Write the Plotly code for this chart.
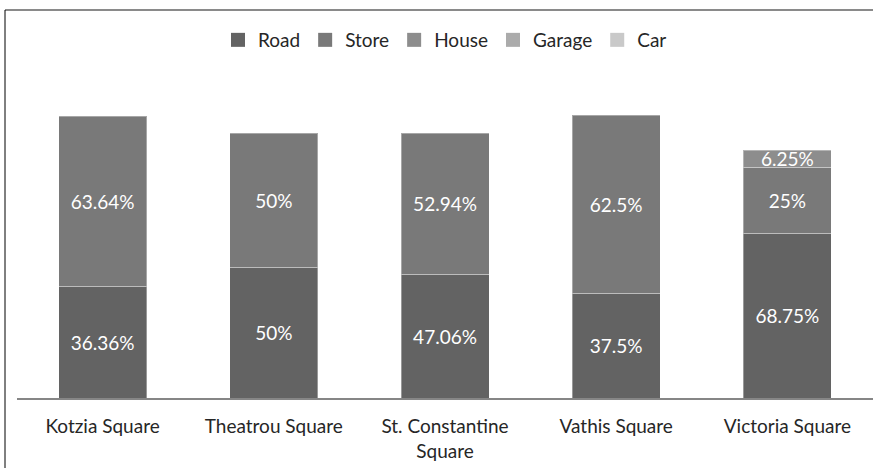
import plotly.graph_objects as go

categories = ["Kotzia Square", "Theatrou Square", "St. Constantine Square", "Vathis Square", "Victoria Square"]
tick_labels = ["Kotzia Square", "Theatrou Square", "St. Constantine<br>Square", "Vathis Square", "Victoria Square"]

series_names = ["Road", "Store", "House", "Garage", "Car"]
# bar segment heights (arbitrary units)
road = [11.2, 13.1, 12.4, 10.5, 16.5]
store = [17.0, 13.4, 14.1, 17.8, 6.6]
house = [None, None, None, None, 1.7]
garage = [None, None, None, None, None]
car = [None, None, None, None, None]

# percentage labels shown on the segments
road_lbl = ["36.36%", "50%", "47.06%", "37.5%", "68.75%"]
store_lbl = ["63.64%", "50%", "52.94%", "62.5%", "25%"]
house_lbl = ["", "", "", "", "6.25%"]
garage_lbl = ["", "", "", "", ""]
car_lbl = ["", "", "", "", ""]

colors = ["#636363", "#797979", "#8d8d8d", "#ababab", "#c9c9c9"]

FONT = "Lato"
W, H = 873, 468
ML, MR, MT, MB = 17, 0, 60, 70

fig = go.Figure()
for name, vals, lbls, col in zip(series_names,
                                 [road, store, house, garage, car],
                                 [road_lbl, store_lbl, house_lbl, garage_lbl, car_lbl],
                                 colors):
    fig.add_trace(go.Bar(
        name=name, x=categories, y=vals, text=lbls,
        textposition="inside", insidetextanchor="middle",
        textfont=dict(family=FONT, size=19, color="white"),
        marker=dict(color=col, line=dict(color="rgba(255,255,255,0.35)", width=1)),
        hoverinfo="skip", showlegend=False, legendgroup=name,
    ))
# legend entries (square swatches like the reference)
for name, col in zip(series_names, colors):
    fig.add_trace(go.Scatter(
        name=name, x=[None], y=[None], mode="markers", legendgroup=name,
        marker=dict(symbol="square", size=14, color=col), hoverinfo="skip",
    ))

# frame lines (converted from pixel to paper coords)
pw = W - ML - MR
ph = H - MT - MB
def px_x(x):
    return (x - ML) / pw
def px_y(y):
    return (H - MB - y) / ph

fig.update_layout(
    width=W, height=H,
    margin=dict(l=ML, r=MR, t=MT, b=MB),
    barmode="stack", bargap=0.486,
    plot_bgcolor="white", paper_bgcolor="white",
    uniformtext=dict(minsize=19, mode="show"),
    font=dict(family=FONT, size=19, color="#262626"),
    legend=dict(orientation="h", x=0.5, xanchor="center", y=px_y(40), yanchor="middle",
                itemwidth=30, traceorder="normal", font=dict(family=FONT, size=19, color="#262626"),
                bgcolor="rgba(0,0,0,0)"),
    xaxis=dict(type="category", tickvals=categories, ticktext=tick_labels,
               showline=True, linecolor="#868686", linewidth=2,
               ticks="outside", ticklen=10, tickcolor="rgba(0,0,0,0)",
               tickfont=dict(family=FONT, size=19, color="#262626"),
               showgrid=False, zeroline=False, fixedrange=True),
    yaxis=dict(range=[0, 33.8], visible=False, showgrid=False, zeroline=False, fixedrange=True),
    shapes=[
        dict(type="line", xref="paper", yref="paper", x0=px_x(5), x1=px_x(W), y0=px_y(10), y1=px_y(10),
             line=dict(color="#8a8a8a", width=2)),
        dict(type="line", xref="paper", yref="paper", x0=px_x(5), x1=px_x(5), y0=px_y(10), y1=px_y(H),
             line=dict(color="#000000", width=1)),
    ],
)

fig.write_html("out.html", config={"displayModeBar": False},
               post_script="document.body.style.margin='0';document.body.style.overflow='hidden';")
